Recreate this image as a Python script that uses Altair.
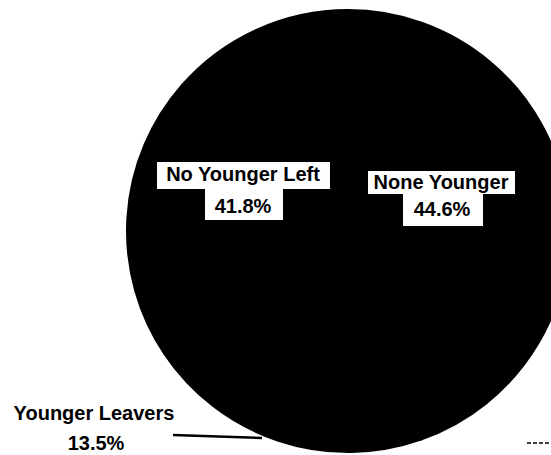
import altair as alt
import pandas as pd

# Data
categories = ["None Younger", "No Younger Left", "Younger Leavers"]
shares = [44.6, 41.8, 13.5]

df = pd.DataFrame({"category": categories, "share": shares})
base = alt.Chart(df).transform_calculate(
    pct="format(datum.share, '.1f') + '%'"
)

FONT = "Liberation Sans"

# Pie (all slices black, as in the scanned original)
pie = base.mark_arc(radius=221, fill="black", stroke="black", strokeWidth=2,
                    strokeJoin="round", clip=True).encode(
    theta=alt.Theta("share:Q", stack=True),
    order=alt.Order("share:Q", sort="descending"),
    x=alt.value(348),
    y=alt.value(231),
)


def one(cat):
    return base.transform_filter(alt.datum.category == cat)


def box(cat, x1, x2, y1, y2):
    return one(cat).mark_rect(color="white").encode(
        x=alt.value(x1), x2=alt.value(x2), y=alt.value(y1), y2=alt.value(y2)
    )


def label(cat, field, x, y, size=20):
    return one(cat).mark_text(
        font=FONT, fontWeight="bold", fontSize=size, color="black",
        align="center", baseline="alphabetic",
    ).encode(text=alt.Text(f"{field}:N"), x=alt.value(x), y=alt.value(y))


layers = [
    pie,
    # white label boxes inside the pie
    box("No Younger Left", 157, 330, 162, 189),
    box("No Younger Left", 205, 283, 188, 220),
    box("None Younger", 368, 515, 171, 194),
    box("None Younger", 403, 483, 193, 226),
    label("No Younger Left", "category", 243, 181),
    label("No Younger Left", "pct", 243, 213),
    label("None Younger", "category", 441, 189),
    label("None Younger", "pct", 442, 216),
    # outside label
    label("Younger Leavers", "category", 94, 420),
    label("Younger Leavers", "pct", 96, 450),
    # pointer line
    one("Younger Leavers").mark_rule(color="black", strokeWidth=2.5).encode(
        x=alt.value(173), x2=alt.value(262), y=alt.value(435), y2=alt.value(438)
    ),
    one("Younger Leavers").mark_rule(color="black", strokeWidth=1.5, strokeDash=[4, 2]).encode(
        x=alt.value(527), x2=alt.value(551), y=alt.value(443), y2=alt.value(443)
    ),
]

chart = alt.layer(*layers).properties(
    width=551, height=455, padding=0, autosize=alt.AutoSizeParams(type="none"),
    background="white",
).configure_view(stroke=None)

chart.save("out.html", embed_options={"renderer": "svg", "actions": False})
